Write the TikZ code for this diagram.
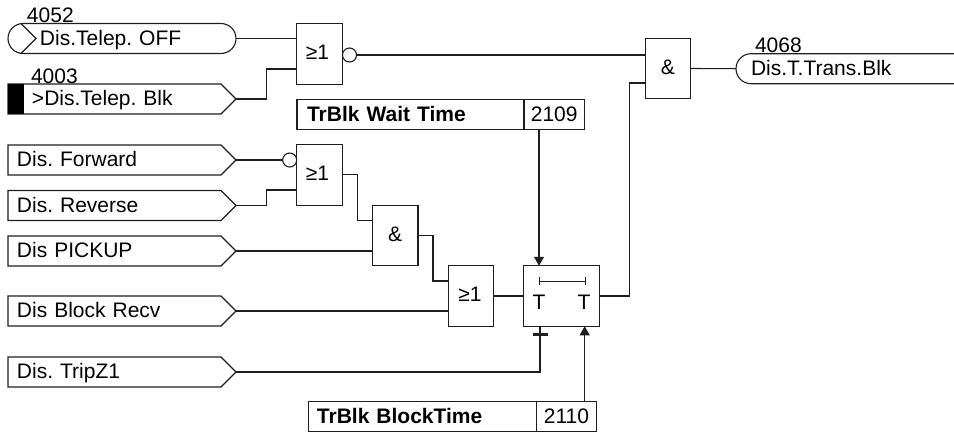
\documentclass[tikz,border=0pt]{standalone}
\usepackage{fontspec}
\setmainfont{Liberation Sans}
\usetikzlibrary{arrows.meta}
\definecolor{wireK}{HTML}{1E1E1E}
\newcommand{\lab}{\fontsize{21}{24}\selectfont\frenchspacing}
\tikzset{
 wire/.style={draw=wireK,line width=1.1pt},
 arr/.style={wire,-{Triangle[width=10pt,length=9pt]}},
 gate/.style={draw=wireK,line width=1.1pt,minimum width=45.5pt,minimum height=60.5pt},
 sigbox/.style={anchor=west,minimum width=228pt,minimum height=30pt,text width=220pt,align=left,text height=17pt,text depth=4pt},
 cell/.style={draw=wireK,line width=1.1pt,anchor=west,minimum height=30pt,text height=17pt,text depth=4pt},
 bub/.style={circle,draw=wireK,line width=1.1pt,minimum size=14pt,fill=white},
 num/.style={anchor=base west}
}
\begin{document}
\begin{tikzpicture}[x=1pt,y=-1pt,every node/.style={inner sep=0pt,outer sep=0pt,font=\lab,text=black}]
\path[use as bounding box] (0,0) rectangle (954,432);
% ---------- input pointers, shared outline
\newcommand{\sigin}[3]{%
 \node[sigbox,name=#1] at (8,#2) {\hspace*{5pt}#3};
 \draw[wire] (#1.north west) -- ([xshift=-15pt]#1.north east) -- (#1.east) -- ([xshift=-15pt]#1.south east) -- (#1.south west) -- cycle;}
\foreach \nm/\yy/\txt in {tlblk/99/\hspace*{15pt}>Dis.Telep. Blk, fwd/160/Dis. Forward, rev/205.5/Dis. Reverse, pick/251/Dis PICKUP, recv/311/Dis Block Recv, trip/372/Dis. TripZ1}{
 \sigin{\nm}{\yy}{\txt}}
\fill[black] (tlblk.north west) rectangle ([xshift=16pt]tlblk.south west);
% ---------- first input, rounded
\node[sigbox,name=tloff] at (8,38.5) {\hspace*{28pt}Dis.Telep. OFF};
\draw[wire,rounded corners=15pt] (tloff.north) -- (tloff.north east) -- (tloff.south east) -- (tloff.south west) -- (tloff.north west) -- cycle;
\draw[wire] ([xshift=13pt]tloff.north west) -- ([xshift=28pt]tloff.west) -- ([xshift=13pt]tloff.south west);
% ---------- output, runs off the page
\node[anchor=west,minimum width=218pt,minimum height=30pt,text width=218pt,align=left,text height=17pt,text depth=4pt,name=tblk] at (736,68.7) {\hspace*{15pt}Dis.T.Trans.Blk};
\draw[wire,rounded corners=15pt] (tblk.north east) -- (tblk.north west) -- (tblk.south west) -- (tblk.south east);
% ---------- signal numbers
\node[num] (n4052) at (27,22) {4052};
\node[num] (n4003) at (31,83) {4003};
\node[num] (n4068) at (755,52.7) {4068};
% ---------- gates
\node[gate] (or1) at (319.5,54) {\raisebox{3pt}{\hspace*{-4pt}≥1}};
\node[gate] (and1) at (667.8,68.5) {\raisebox{3pt}{\&}};
\node[gate] (or2) at (319.5,175) {\raisebox{3pt}{\hspace*{-4pt}≥1}};
\node[gate] (and2) at (395.2,235.5) {\raisebox{3pt}{\&}};
\node[gate] (or3) at (471,296) {\raisebox{3pt}{\hspace*{-2pt}≥1}};
\node[bub] (inv1) at (349.5,55) {};
\node[bub] (inv2) at (289.7,160) {};
% ---------- timer
\node[gate,minimum width=76pt] (timer) at (561.7,296) {};
\node (tleft) at (539,302) {T};
\node (tright) at (584,302) {T};
\coordinate (tspanL) at (539,281);
\coordinate (tspanR) at (586,281);
\draw[wire,line width=.8pt,{|[width=8pt]}-{|[width=8pt]}] (tspanL) -- (tspanR);
% ---------- settings
\node[cell,font=\lab\bfseries,minimum width=227pt,text width=207pt,align=left] (waitname) at (297,114.7) {TrBlk Wait Time};
\node[cell,minimum width=60.5pt,align=center] (waitval) at (524,114.7) {2109};
\node[cell,font=\lab\bfseries,minimum width=227.5pt,text width=211pt,align=left] (blkname) at (308.7,416.6) {TrBlk BlockTime};
\node[cell,minimum width=60.5pt,align=center] (blkval) at (536.2,416.6) {2110};
% ---------- wiring, top
\coordinate (or1b) at (or1.west |- 0,69);
\coordinate (k1) at (266.5,69);
\draw[wire] (tloff.east) -- (tloff.east -| or1.west);
\draw[wire] (tlblk.east) -| (k1) -- (or1b);
\coordinate (and1a) at (and1.west |- 0,55);
\coordinate (and1b) at (and1.west |- 0,83);
\coordinate (k2) at (629.3,83);
\draw[wire] (inv1.east) -- (and1a);
\draw[wire] (timer.east) -| (k2) -- (and1b);
\draw[wire] (and1.east) -- (tblk.west);
% ---------- wiring, middle
\coordinate (or2b) at (or2.west |- 0,190);
\coordinate (k3) at (266.7,190);
\draw[wire] (fwd.east) -- (inv2.west);
\draw[wire] (rev.east) -| (k3) -- (or2b);
\coordinate (or2o) at (or2.east |- 0,174.5);
\coordinate (k4) at (357.3,220.3);
\coordinate (and2a) at (and2.west |- k4);
\draw[wire] (or2o) -| (k4) -- (and2a);
\draw[wire] (pick.east) -- (pick.east -| and2.west);
\coordinate (k5) at (433,281);
\coordinate (or3a) at (or3.west |- k5);
\draw[wire] (and2.east) -| (k5) -- (or3a);
\draw[wire] (recv.east) -- (recv.east -| or3.west);
\draw[wire] (or3.east) -- (timer.west);
% ---------- wiring, timer
\coordinate (tinA) at (tleft |- timer.north);
\coordinate (tinB) at (584.7,326.3);
\coordinate (tinC) at (540,326.3);
\coordinate (tbar) at (540,334);
\draw[arr] (waitval.south -| tinA) -- (tinA);
\draw[arr] (blkval.north -| tinB) -- (tinB);
\draw[wire] (trip.east) -| (tinC);
\draw[wire,line width=3pt] ([xshift=-7.5pt]tbar) -- ([xshift=7.5pt]tbar);
\end{tikzpicture}
\end{document}
